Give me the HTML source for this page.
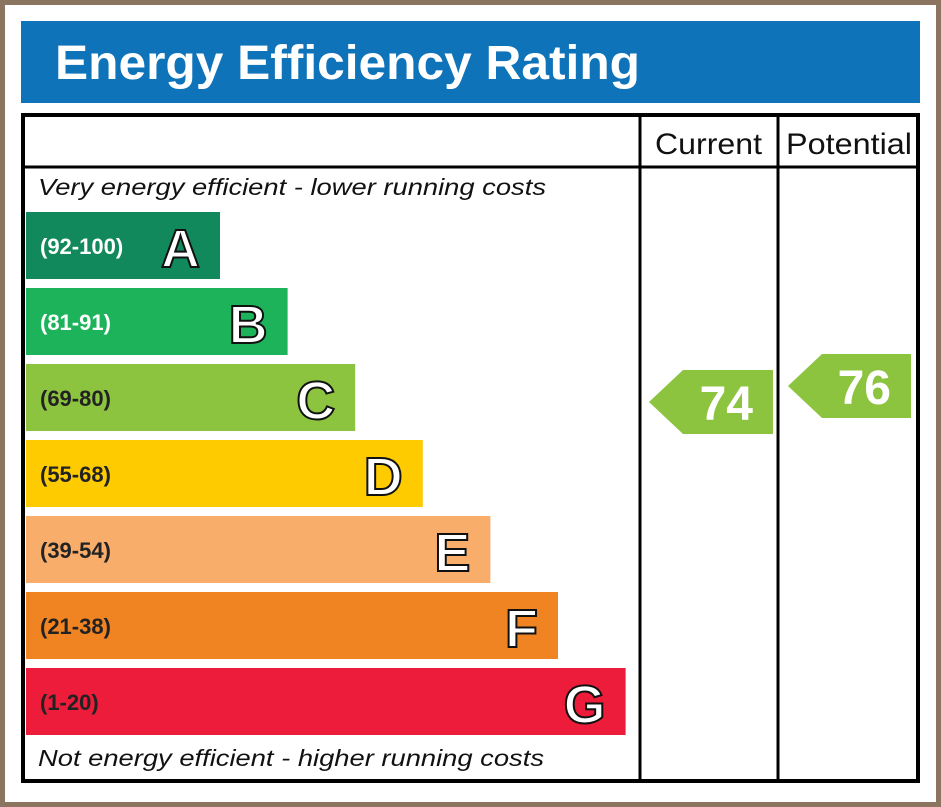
<!DOCTYPE html>
<html><head><meta charset="utf-8"><style>
html,body{margin:0;padding:0;background:#fff}
svg{display:block}
text{font-family:"Liberation Sans","DejaVu Sans",sans-serif}
</style></head><body>
<svg id="c" width="941" height="807" viewBox="0 0 941 807">
<rect x="2.5" y="2.5" width="936" height="802" fill="#fff" stroke="#8b7560" stroke-width="5"/>
<rect x="21" y="21" width="899" height="82" fill="#0f73b9"/>
<text x="55" y="79" font-size="48" font-weight="bold" fill="#fff" textLength="585" lengthAdjust="spacingAndGlyphs">Energy Efficiency Rating</text>
<rect x="23" y="115" width="895" height="666" fill="none" stroke="#000" stroke-width="4"/>
<line x1="23" y1="167" x2="918" y2="167" stroke="#000" stroke-width="3"/>
<line x1="640" y1="115" x2="640" y2="781" stroke="#000" stroke-width="3"/>
<line x1="778" y1="115" x2="778" y2="781" stroke="#000" stroke-width="3"/>
<text x="655" y="154" font-size="30" fill="#111" textLength="107" lengthAdjust="spacingAndGlyphs">Current</text>
<text x="786" y="154" font-size="30" fill="#111" textLength="126" lengthAdjust="spacingAndGlyphs">Potential</text>
<text x="38" y="195" font-size="23" font-style="italic" fill="#111" textLength="508" lengthAdjust="spacingAndGlyphs">Very energy efficient - lower running costs</text>
<text x="38" y="766" font-size="23" font-style="italic" fill="#111" textLength="506" lengthAdjust="spacingAndGlyphs">Not energy efficient - higher running costs</text>
<g id="bands"></g>
<g id="arrows"></g>
</svg>
<script>
const bandLetters=["A","B","C","D","E","F","G"];
const bandRanges=["(92-100)","(81-91)","(69-80)","(55-68)","(39-54)","(21-38)","(1-20)"];
const bandColors=["#12895c","#1cb35a","#8cc43f","#fecb00","#f8ad6b","#f08423","#ec1c3a"];
const currentValue=74;
const potentialValue=76;
const NS="http://www.w3.org/2000/svg";
function mk(t,a){const e=document.createElementNS(NS,t);for(const k in a)e.setAttribute(k,a[k]);return e;}
const bandTop=212,bandStep=76,bandH=67,bandX=26,bandW0=194,bandWStep=67.6;
const bg=document.getElementById('bands');
bandLetters.forEach((L,i)=>{
  const y=bandTop+i*bandStep,w=bandW0+i*bandWStep;
  const r=mk('rect',{x:bandX,y:y,width:w,height:bandH,fill:bandColors[i]});
  
  
  bg.appendChild(r);
  const t=mk('text',{x:40,y:y+42,'font-size':22,'font-weight':'bold',fill:(i<2?'#fff':'#222')});
  t.textContent=bandRanges[i];
  
  
  bg.appendChild(t);
  const l=mk('text',{x:bandX+w-20,y:y+55,'font-size':54,'font-weight':'bold','text-anchor':'end',fill:'#fff',stroke:'#111','stroke-width':2});
  l.textContent=L;
  
  
  bg.appendChild(l);
});
function yOf(v){return 402-(v-74)*8;}
function colorOf(v){const th=[92,81,69,55,39,21,1];for(let i=0;i<th.length;i++)if(v>=th[i])return bandColors[i];return bandColors[6];}
const ag=document.getElementById('arrows');
function arrow(v,x0,x1,name){
  const cy=yOf(v),h=64,tip=34;
  const p=mk('polygon',{points:`${x0},${cy} ${x0+tip},${cy-h/2} ${x1},${cy-h/2} ${x1},${cy+h/2} ${x0+tip},${cy+h/2}`,fill:colorOf(v)});
  
  
  ag.appendChild(p);
  const t=mk('text',{x:x1-20,y:cy+18,'font-size':48,'font-weight':'bold','text-anchor':'end',fill:'#fff'});
  t.textContent=v;
  
  
  ag.appendChild(t);
}
arrow(currentValue,649,773,'current');
arrow(potentialValue,788,911,'potential');
</script>
</body></html>
